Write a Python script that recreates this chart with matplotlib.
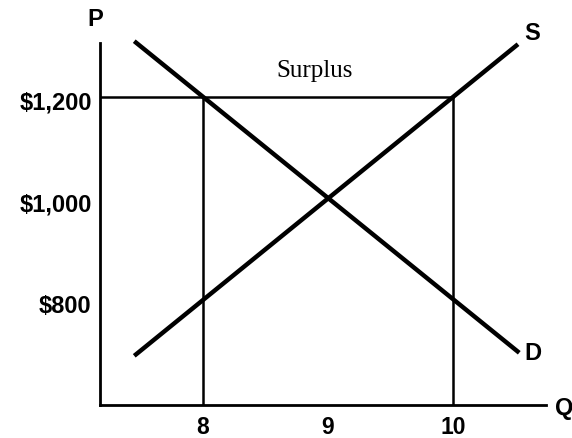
import matplotlib
matplotlib.use('Agg')
import matplotlib.pyplot as plt
import matplotlib.transforms as mtransforms

# quantities and prices
q_ticks = [8, 9, 10]
p_ticks = [800, 1000, 1200]
p_labels = ['$800', '$1,000', '$1,200']

# supply / demand end points (quantity, price)
supply_q = [7.45, 10.52]
supply_p = [690, 1304]
demand_q = [7.45, 10.53]
demand_p = [1310, 696]

price_floor = 1200
qd, qs = 8, 10

plt.rcParams['font.family'] = ['Liberation Sans', 'DejaVu Sans']

fig = plt.figure(figsize=(5.72, 4.38), dpi=100)
ax = fig.add_axes([100 / 572, 33 / 438, 446 / 572, 362 / 438])
ax.set_xlim(7.176, 10.744)
ax.set_ylim(593.1, 1306.4)

for s in ['top', 'right']:
    ax.spines[s].set_visible(False)
for s in ['left', 'bottom']:
    ax.spines[s].set_linewidth(2)

ax.plot(supply_q, supply_p, color='black', lw=3.2, solid_capstyle='butt', clip_on=False)
ax.plot(demand_q, demand_p, color='black', lw=3.2, solid_capstyle='butt', clip_on=False)

# price floor and quantity lines
ax.plot([7.176, qs], [price_floor, price_floor], color='black', lw=1.8)
ax.plot([qd, qd], [593.1, price_floor], color='black', lw=1.8)
ax.plot([qs, qs], [593.1, price_floor], color='black', lw=1.8)

ax.set_xticks(q_ticks)
ax.set_xticklabels([str(q) for q in q_ticks], fontsize=16.5, fontweight='bold')
ax.set_yticks(p_ticks)
ax.set_yticklabels(p_labels, fontsize=17, fontweight='bold')
ax.tick_params(axis='y', length=0, pad=6)
ax.tick_params(axis='x', length=0, pad=8)

# y labels sit a little below their price level
shift = mtransforms.ScaledTranslation(0, -4 / 100, fig.dpi_scale_trans)
for lab in ax.get_yticklabels():
    lab.set_transform(lab.get_transform() + shift)

ax.text(8.896, 1251, 'Surplus', family='Liberation Serif', fontsize=18,
        ha='center', va='center')
ax.text(supply_q[1] + 0.05, supply_p[1] + 22, 'S', fontsize=17, fontweight='bold',
        ha='left', va='center', clip_on=False)
ax.text(demand_q[1] + 0.04, demand_p[1] - 1, 'D', fontsize=17, fontweight='bold',
        ha='left', va='center', clip_on=False)
ax.text(7.136, 1352, 'P', fontsize=17, fontweight='bold', ha='center', va='center')
ax.text(10.815, 586, 'Q', fontsize=17, fontweight='bold', ha='left', va='center',
        clip_on=False)

fig.savefig('out.png', dpi=100)
